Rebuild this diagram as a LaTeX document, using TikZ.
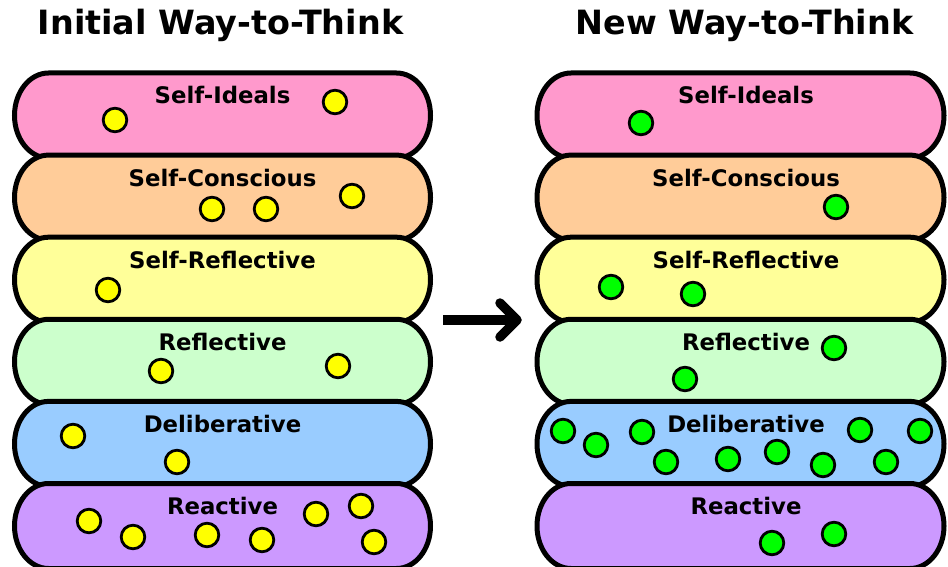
\documentclass[tikz,border=0pt]{standalone}
\usepackage{fontspec}
\setmainfont{DejaVu Sans}
\begin{document}
\begin{tikzpicture}[x=1pt,y=1pt,
  pillline/.style={line width=5pt, draw=black},
  lbl/.style={font=\fontsize{22.8}{27}\selectfont\bfseries, anchor=base, inner sep=0pt},
  ttl/.style={font=\fontsize{33.4}{40}\selectfont\bfseries, anchor=base, inner sep=0pt},
  ydot/.style={circle, draw=black, line width=2.8pt, fill=yellow, minimum size=23.6pt, inner sep=0pt},
  gdot/.style={circle, draw=black, line width=2.8pt, fill=lime, minimum size=23.6pt, inner sep=0pt},
  bigarrow/.style={line width=9.5pt, draw=black}
]
\definecolor{pk}{HTML}{FF99CC}
\definecolor{og}{HTML}{FFCC99}
\definecolor{yl}{HTML}{FFFF99}
\definecolor{lg}{HTML}{CCFFCC}
\definecolor{bl}{HTML}{99CCFF}
\definecolor{pu}{HTML}{CC99FF}
\definecolor{yellow}{HTML}{FFFF00}
\definecolor{lime}{HTML}{00FF00}
\useasboundingbox (0,0) rectangle (948,566);

% titles
\node[ttl] (t1) at (220.5,531) {Initial Way-to-Think};
\node[ttl] (t2) at (744.5,531) {New Way-to-Think};

% pills
\def\ph{85}
\def\rx{34}
\foreach \col/\name [count=\i from 0] in {pk/Self-Ideals, og/Self-Conscious, yl/Self-Reflective, lg/Reflective, bl/Deliberative, pu/Reactive}{
  \pgfmathsetmacro{\T}{493-82.1*\i}
  \pgfmathsetmacro{\B}{\T-\ph}
  \foreach \xa/\xb/\lx/\side in {14.5/430.5/222.5/L, 537/944/746/R}{
    \draw[pillline, fill=\col] (\xa+\rx,\T) -- (\xb-\rx,\T)
      arc[start angle=90, end angle=-90, x radius=\rx, y radius=\ph/2]
      -- (\xa+\rx,\B)
      arc[start angle=270, end angle=90, x radius=\rx, y radius=\ph/2] -- cycle;
    \node[lbl] (lab\side\i) at (\lx,\T-31) {\name};
  }
}

% yellow dots (left)
\foreach \px/\py [count=\k] in {115/120, 335/102, 212/209, 266/209, 352/196, 108/290,
  161/371, 338/366, 73/436, 177/462, 89/521, 133/537, 207/535, 262/540, 316/514, 361/506, 374/542}{
  \node[ydot] (yd\k) at (\px,566-\py) {};
}
% green dots (right)
\foreach \px/\py [count=\k] in {641/123, 836/207, 611/287, 693/294, 834/348, 685/379,
  563/431, 596/445, 642/432, 666/462, 728/459, 777/452, 823/465, 860/430, 886/462, 920/431,
  772/543, 834/534}{
  \node[gdot] (gd\k) at (\px,566-\py) {};
}

% arrow
\coordinate (as) at (443,246);
\coordinate (ae) at (517,246);
\draw[bigarrow] (as) -- ([xshift=-3pt]ae);
\draw[bigarrow, line cap=round, line join=round]
  ([shift={(-17pt,17pt)}]ae) -- (ae) -- ([shift={(-17pt,-17pt)}]ae);
\end{tikzpicture}
\end{document}
